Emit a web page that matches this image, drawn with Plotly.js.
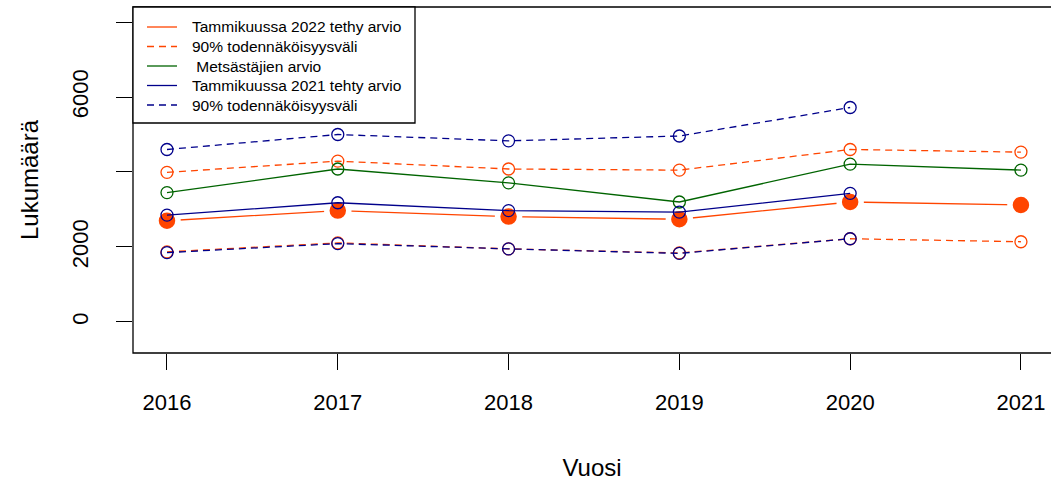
<!DOCTYPE html>
<html>
<head>
<meta charset="utf-8">
<script src="https://cdn.plot.ly/plotly-3.0.1.min.js"></script>
<style>html,body{margin:0;padding:0;background:#fff;}#chart{width:1051px;height:481px;}</style>
</head>
<body>
<div id="chart"></div>
<script>
// ---- data ----
const years = [2016, 2017, 2018, 2019, 2020, 2021];
const est2022 = [2700, 2970, 2810, 2740, 3200, 3120];
const est2022Upper = [3990, 4290, 4080, 4050, 4600, 4530];
const est2022Lower = [1870, 2110, 1950, 1840, 2220, 2140];
const hunters = [3450, 4080, 3710, 3200, 4210, 4050];
const est2021 = [2850, 3180, 2970, 2930, 3430, null];
const est2021Upper = [4600, 5000, 4830, 4960, 5720, null];
const est2021Lower = [1850, 2090, 1950, 1830, 2220, null];

const seriesNames = [
  "Tammikuussa 2022 tethy arvio",
  "90% todennäköisyysväli",
  " Metsästäjien arvio",
  "Tammikuussa 2021 tehty arvio",
  "90% todennäköisyysväli"
];
const yTickVals = [0, 2000, 4000, 6000, 8000];
const yTickText = ["0", "2000", "", "6000", ""];
const xTitle = "Vuosi";
const yTitle = "Lukumäärä";

// ---- styles ----
const ORANGE = "#FF4500", GREEN = "#006400", BLUE = "#00008B";
const DASH = "7px,5px";
const FONT = "Liberation Sans, Arial, sans-serif";
const W = 1051, H = 481, ML = 133, MT = 7, MB = 128, MR = 0;
const PW = W - ML - MR, PH = H - MT - MB;

function openCircles(color) {
  return {symbol: "circle-open", size: 12, color: color, line: {width: 1.3, color: color}};
}

const traces = [
  // orange estimate: filled points with a gap around them (R type="b")
  {x: years, y: est2022, mode: "lines+markers", name: seriesNames[0], showlegend: false,
   line: {color: ORANGE, width: 1.3},
   marker: {symbol: "circle", size: 22, color: ORANGE, line: {width: 5.5, color: "#ffffff"}}},
  {x: years, y: est2022Upper, mode: "lines+markers", name: seriesNames[1], showlegend: false,
   line: {color: ORANGE, width: 1.3, dash: DASH}, marker: openCircles(ORANGE)},
  {x: years, y: est2022Lower, mode: "lines+markers", name: seriesNames[1], showlegend: false,
   line: {color: ORANGE, width: 1.3, dash: DASH}, marker: openCircles(ORANGE)},
  {x: years, y: hunters, mode: "lines+markers", name: seriesNames[2], showlegend: false,
   line: {color: GREEN, width: 1.3}, marker: openCircles(GREEN)},
  {x: years, y: est2021, mode: "lines+markers", name: seriesNames[3], showlegend: false,
   line: {color: BLUE, width: 1.3}, marker: openCircles(BLUE)},
  {x: years, y: est2021Upper, mode: "lines+markers", name: seriesNames[4], showlegend: false,
   line: {color: BLUE, width: 1.3, dash: DASH}, marker: openCircles(BLUE)},
  {x: years, y: est2021Lower, mode: "lines+markers", name: seriesNames[4], showlegend: false,
   line: {color: BLUE, width: 1.3, dash: DASH}, marker: openCircles(BLUE)}
];

// ---- R-style legend box (top-left, inside the plot frame) ----
const legendStyles = [
  {color: ORANGE, dash: "solid"}, {color: ORANGE, dash: DASH}, {color: GREEN, dash: "solid"},
  {color: BLUE, dash: "solid"}, {color: BLUE, dash: DASH}
];
const px2x = function (px) { return (px - ML) / PW; };
const px2y = function (py) { return (H - MB - py) / PH; };
const shapes = [
  {type: "rect", xref: "paper", yref: "paper", x0: 0, x1: 1.05, y0: 0, y1: 1,
   line: {color: "#000000", width: 1.3}, fillcolor: "rgba(0,0,0,0)", layer: "above"},
  {type: "rect", xref: "paper", yref: "paper", x0: 0, x1: px2x(415), y0: px2y(123), y1: 1,
   line: {color: "#000000", width: 1.3}, fillcolor: "#ffffff", layer: "above"}
];
const annotations = [];
seriesNames.forEach(function (name, i) {
  const yc = 27 + i * 19.5;
  shapes.push({type: "line", xref: "paper", yref: "paper",
    x0: px2x(147), x1: px2x(177), y0: px2y(yc), y1: px2y(yc),
    line: {color: legendStyles[i].color, width: 1.3, dash: legendStyles[i].dash}, layer: "above"});
  annotations.push({xref: "paper", yref: "paper", x: px2x(190), y: px2y(yc),
    xanchor: "left", yanchor: "middle", showarrow: false, text: name,
    font: {family: FONT, size: 15.5, color: "#000000"}});
});

const layout = {
  width: W, height: H,
  margin: {l: ML, r: MR, t: MT, b: MB},
  paper_bgcolor: "#ffffff", plot_bgcolor: "#ffffff",
  font: {family: FONT, color: "#000000"},
  showlegend: false,
  xaxis: {range: [2015.801, 2021.176], tickvals: years, ticktext: years.map(String),
    ticks: "outside", ticklen: 16, tickwidth: 1, tickcolor: "#000000",
    showgrid: false, zeroline: false, showline: false,
    tickfont: {family: FONT, size: 22, color: "#000000"}, ticklabelstandoff: 14,
    title: {text: xTitle, font: {family: FONT, size: 24, color: "#000000"}, standoff: 49}},
  yaxis: {range: [-827, 8400], tickvals: yTickVals, ticktext: yTickText,
    ticks: "outside", ticklen: 16, tickwidth: 1, tickcolor: "#000000",
    showgrid: false, zeroline: false, showline: false, tickangle: -90,
    tickfont: {family: FONT, size: 22, color: "#000000"}, ticklabelstandoff: 19,
    title: {text: yTitle, font: {family: FONT, size: 24, color: "#000000"}, standoff: 22}},
  shapes: shapes,
  annotations: annotations
};

Plotly.newPlot("chart", traces, layout, {staticPlot: true, displayModeBar: false});
</script>
</body>
</html>
